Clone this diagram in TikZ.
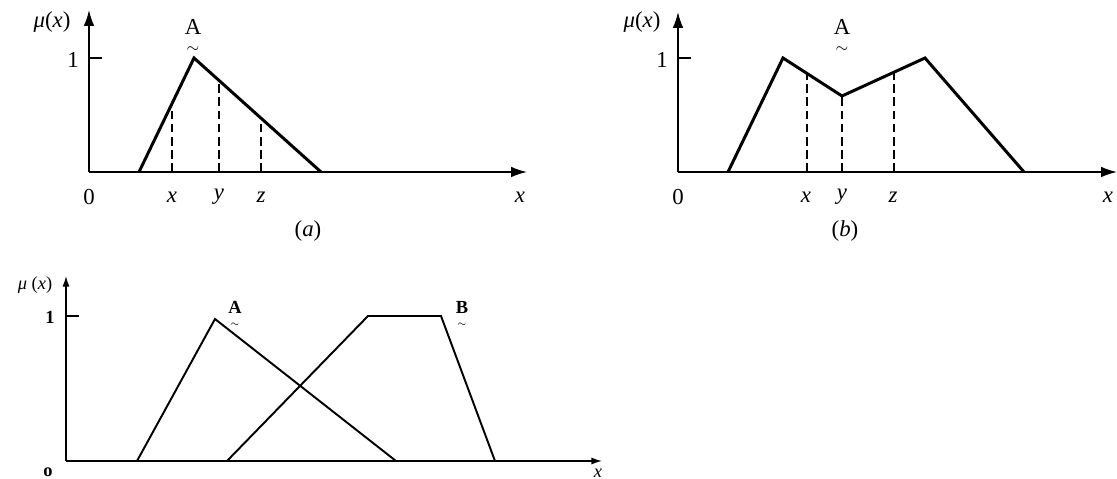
\documentclass[tikz,border=0pt]{standalone}
\usepackage{amsmath}
\usepackage{fontspec}
\setmainfont{Liberation Serif}
\usetikzlibrary{arrows.meta}

\begin{document}
\begin{tikzpicture}[x=0.02cm, y=-0.02cm,
  ax/.style={-{Latex[length=9pt,width=6pt]}, line width=0.9pt},
  axs/.style={-{Latex[length=6pt,width=4pt]}, line width=0.8pt},
  mf/.style={line width=1.7pt, line join=miter},
  mfs/.style={line width=1.1pt, line join=miter},
  cut/.style={line width=0.6pt, dash pattern=on 5pt off 2.5pt},
  lab/.style={font=\fontsize{13}{15}\selectfont, inner sep=1pt},
  labs/.style={font=\fontsize{10.5}{12}\selectfont, inner sep=1pt},
  tset/.style={lab, align=center, inner sep=0pt},
  tsets/.style={labs, align=center, inner sep=0pt}
]
\useasboundingbox (0,0) rectangle (1117,479);
% (a) triangular set
\coordinate (oa) at (89,172);
\coordinate (ya) at (89,10);
\coordinate (xa) at (527,172);
\draw[ax] (oa) -- (ya);
\draw[ax] (oa) -- (xa);
\draw[line width=0.9pt] (89,58) -- (102,58);
\node[lab] (mua) at (52,22) {\textit{μ}(\textit{x})};
\node[lab] (onea) at (73,60) {1};
\node[lab] (zeroa) at (89,197) {0};
\node[lab] (xla) at (520,197) {\textit{x}};
\coordinate (a1) at (139,172);
\coordinate (a2) at (194,58);
\coordinate (a3) at (321,172);
\draw[mf] (a1) -- (a2) -- (a3);
\draw[cut] (172,172) -- (172,104);
\draw[cut] (219,172) -- (219,80);
\draw[cut] (261,172) -- (261,118);
\node[lab] (pxa) at (172,197) {\textit{x}};
\node[lab] (pya) at (219,197) {\textit{y}};
\node[lab] (pza) at (261,197) {\textit{z}};
\node[tset] (seta) at (193,36) {A\\[-4.5pt]{\small$\sim$}};
\node[lab] (capa) at (308,231) {(\textit{a})};
% (b) non-convex set
\coordinate (ob) at (678,172);
\coordinate (yb) at (678,12);
\coordinate (xb) at (1117,172);
\draw[ax] (ob) -- (yb);
\draw[ax] (ob) -- (xb);
\draw[line width=0.9pt] (678,58) -- (691,58);
\node[lab] (mub) at (642,22) {\textit{μ}(\textit{x})};
\node[lab] (oneb) at (662,60) {1};
\node[lab] (zerob) at (678,197) {0};
\node[lab] (xlb) at (1108,197) {\textit{x}};
\coordinate (b1) at (728,172);
\coordinate (b2) at (783,58);
\coordinate (b3) at (842,96);
\coordinate (b4) at (925,58);
\coordinate (b5) at (1024,172);
\draw[mf] (b1) -- (b2) -- (b3) -- (b4) -- (b5);
\draw[cut] (807,172) -- (807,73);
\draw[cut] (842,172) -- (842,96);
\draw[cut] (894,172) -- (894,72);
\node[lab] (pxb) at (806,197) {\textit{x}};
\node[lab] (pyb) at (842,197) {\textit{y}};
\node[lab] (pzb) at (893,197) {\textit{z}};
\node[tset] (setb) at (842,36) {A\\[-4.5pt]{\small$\sim$}};
\node[lab] (capb) at (845,231) {(\textit{b})};
% (c) two sets
\coordinate (oc) at (66,461);
\coordinate (yc) at (66,276);
\coordinate (xc) at (602,461);
\draw[axs] (oc) -- (yc);
\draw[axs] (oc) -- (xc);
\draw[line width=0.7pt] (66,316) -- (79,316);
\node[labs] (muc) at (35,285) {\textit{μ} (\textit{x})};
\node[labs] (onec) at (50,317) {\textbf{1}};
\node[labs] (zeroc) at (48,472) {\textbf{o}};
\node[labs] (xlc) at (598,473) {\textit{x}};
\coordinate (c1) at (137,461);
\coordinate (c2) at (215,319);
\coordinate (c3) at (396,461);
\draw[mfs] (c1) -- (c2) -- (c3);
\coordinate (d1) at (227,461);
\coordinate (d2) at (368,316);
\coordinate (d3) at (441,316);
\coordinate (d4) at (495,461);
\draw[mfs] (d1) -- (d2) -- (d3) -- (d4);
\node[tsets] (setc) at (235,314) {\textbf{A}\\[-5pt]{\tiny$\sim$}};
\node[tsets] (setd) at (462,314) {\textbf{B}\\[-5pt]{\tiny$\sim$}};
\end{tikzpicture}
\end{document}
